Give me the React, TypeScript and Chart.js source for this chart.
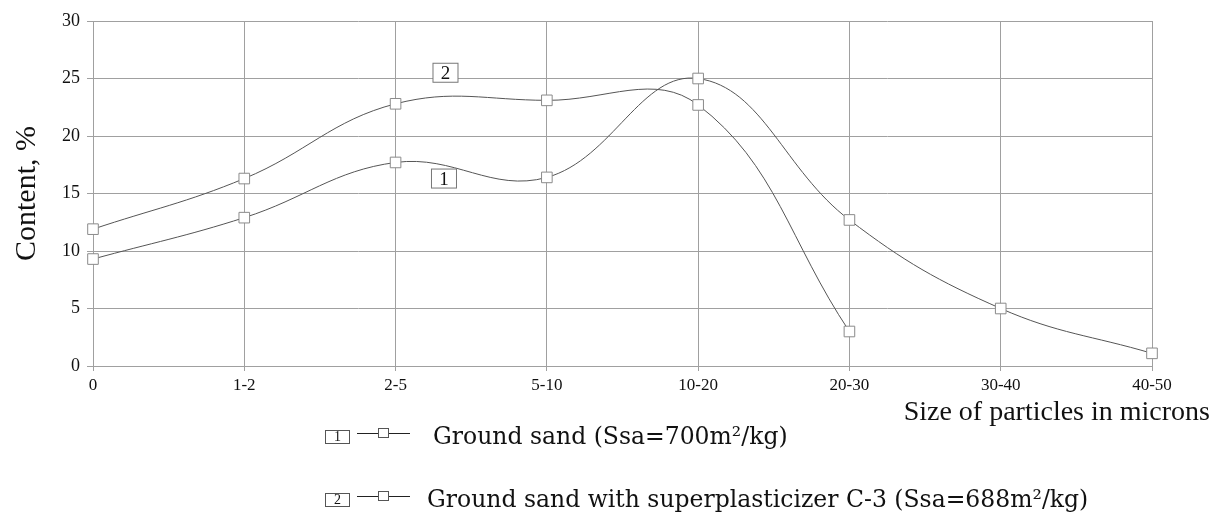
import React, { useEffect, useRef } from "react";
import { Chart, registerables } from "chart.js";

Chart.register(...registerables);

const categories = ["0", "1-2", "2-5", "5-10", "10-20", "20-30", "30-40", "40-50"];
const series1 = [9.3, 12.9, 17.7, 16.4, 25.0, 12.7, 5.0, 1.1];
const series2 = [11.9, 16.3, 22.8, 23.1, 22.7, 3.0, null, null];
const yTicks = [0, 5, 10, 15, 20, 25, 30];
const legendLabels = [
  { id: "1", text: "Ground sand (Ssa=700m\u00b2/kg)" },
  { id: "2", text: "Ground sand with superplasticizer C-3 (Ssa=688m\u00b2/kg)" },
];
const curveTags = [
  { id: "2", at: 2.33, value: 25.5 },
  { id: "1", at: 2.32, value: 16.3 },
];
const yTitle = "Content, %";
const xTitle = "Size of particles in microns";

const SERIF = "'Liberation Serif'";
const LEGEND_FONT = "'DejaVu Serif'";
const LINE = "#555555";
const MARK = "#8a8a8a";
const GRID = "#a0a0a0";

const extras = {
  id: "extras",
  afterDraw(chart: any) {
    const ctx = chart.ctx;
    const x = chart.scales.x;
    const y = chart.scales.y;
    const area = chart.chartArea;
    ctx.save();
    ctx.fillStyle = "#111";
    ctx.font = `30px ${SERIF}`;
    ctx.textAlign = "center";
    ctx.textBaseline = "middle";
    ctx.translate(27, (area.top + area.bottom) / 2);
    ctx.rotate(-Math.PI / 2);
    ctx.fillText(yTitle, 0, 0);
    ctx.restore();

    ctx.save();
    ctx.fillStyle = "#111";
    ctx.font = `28px ${SERIF}`;
    ctx.textAlign = "right";
    ctx.textBaseline = "middle";
    ctx.fillText(xTitle, chart.width - 2, 413);
    ctx.restore();

    ctx.save();
    curveTags.forEach((t) => {
      const cx = x.getPixelForValue(t.at);
      const cy = y.getPixelForValue(t.value);
      ctx.fillStyle = "#fff";
      ctx.fillRect(cx - 12.5, cy - 9.5, 25, 19);
      ctx.strokeStyle = "#777";
      ctx.lineWidth = 1;
      ctx.strokeRect(cx - 12.5, cy - 9.5, 25, 19);
      ctx.fillStyle = "#111";
      ctx.font = `19px ${SERIF}`;
      ctx.textAlign = "center";
      ctx.textBaseline = "middle";
      ctx.fillText(t.id, cx, cy + 1);
    });
    ctx.restore();

    ctx.save();
    const rows = [437, 500];
    const textX = [433, 427];
    legendLabels.forEach((l, i) => {
      const cy = rows[i];
      ctx.strokeStyle = "#555";
      ctx.lineWidth = 1;
      ctx.strokeRect(325.5, cy - 6.5, 24, 13);
      ctx.fillStyle = "#111";
      ctx.font = `14px ${SERIF}`;
      ctx.textAlign = "center";
      ctx.textBaseline = "middle";
      ctx.fillText(l.id, 337.5, cy + 0.5);
      ctx.strokeStyle = "#222";
      ctx.beginPath();
      ctx.moveTo(357, cy - 3.5);
      ctx.lineTo(410, cy - 3.5);
      ctx.stroke();
      ctx.fillStyle = "#fff";
      ctx.fillRect(378.5, cy - 8.5, 10, 9);
      ctx.strokeStyle = "#555";
      ctx.strokeRect(378.5, cy - 8.5, 10, 9);
      ctx.fillStyle = "#111";
      ctx.font = `23.5px ${LEGEND_FONT}`;
      ctx.textAlign = "left";
      ctx.textBaseline = "middle";
      ctx.fillText(l.text, textX[i], cy + 1);
    });
    ctx.restore();
  },
};

export default function App() {
  const ref = useRef<HTMLCanvasElement>(null);
  useEffect(() => {
    let chart: any = null;
    let cancelled = false;
    const ds = (data: (number | null)[]) => ({
      data,
      borderColor: LINE,
      borderWidth: 1,
      tension: 0.4,
      pointStyle: "rect",
      pointRadius: 7.5,
      pointBorderColor: MARK,
      pointBackgroundColor: "#ffffff",
      pointBorderWidth: 1,
      spanGaps: false,
      fill: false,
    });
    const build = () => {
      if (cancelled || !ref.current) return;
      chart = new Chart(ref.current, {
        type: "line",
        data: {
          labels: categories,
          datasets: [ds(series1), ds(series2)],
        },
        options: {
          animation: false,
          responsive: false,
          maintainAspectRatio: false,
          layout: { padding: { left: 0, top: 21, right: 60, bottom: 0 } },
          plugins: { legend: { display: false }, tooltip: { enabled: false } },
          scales: {
            x: {
              offset: false,
              grid: { color: GRID, lineWidth: 1, tickLength: 5, drawTicks: true },
              border: { color: GRID },
              ticks: { color: "#111", font: { family: SERIF, size: 17 }, padding: 4, maxRotation: 0 },
              afterFit: (s: any) => {
                s.height = 157;
              },
            },
            y: {
              min: 0,
              max: 30,
              afterBuildTicks: (s: any) => {
                s.ticks = yTicks.map((v) => ({ value: v }));
              },
              grid: { color: GRID, lineWidth: 1, tickLength: 6 },
              border: { color: GRID },
              ticks: { color: "#111", font: { family: SERIF, size: 18 }, padding: 7 },
              afterFit: (s: any) => {
                s.width = 93;
              },
            },
          },
        },
        plugins: [extras],
      });
    };
    const fontsApi: any = (document as any).fonts;
    if (fontsApi && fontsApi.load) {
      Promise.all([
        fontsApi.load(`18px ${SERIF}`),
        fontsApi.load(`23px ${LEGEND_FONT}`),
      ])
        .catch(() => null)
        .then(build);
    } else {
      build();
    }
    return () => {
      cancelled = true;
      if (chart) chart.destroy();
    };
  }, []);
  return (
    <div style={{ position: "absolute", left: 0, top: 0, width: 1212, height: 523, background: "#fff" }}>
      <canvas ref={ref} width={1212} height={523} style={{ display: "block" }} />
    </div>
  );
}
